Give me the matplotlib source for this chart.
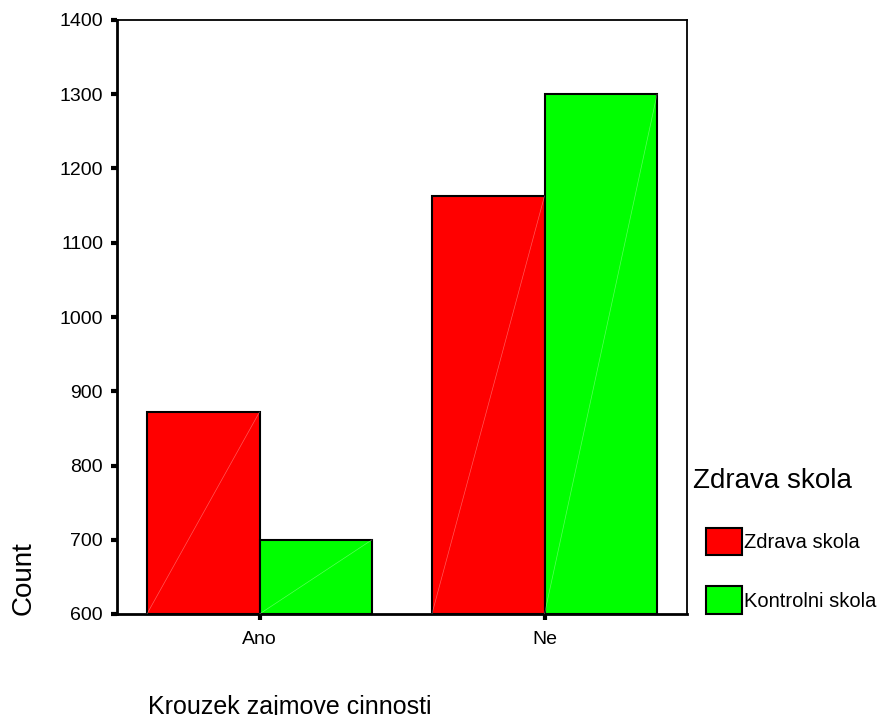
import matplotlib
matplotlib.use('Agg')
import matplotlib.pyplot as plt
import numpy as np
from matplotlib.patches import Patch

plt.rcParams['font.family'] = ['Liberation Sans', 'DejaVu Sans']

# data
categories = ['Ano', 'Ne']
groups = ['Zdrava skola', 'Kontrolni skola']
zdrava = [872, 1163]
kontrolni = [700, 1300]
colors = ['#ff0000', '#00ff00']
y_ticks = [600, 700, 800, 900, 1000, 1100, 1200, 1300, 1400]

fig = plt.figure(figsize=(8.85, 7.15), dpi=100)
ax = fig.add_axes([117 / 885, 1 - 614 / 715, 570 / 885, 594 / 715])

x = np.arange(len(categories))
width = 0.395
base = y_ticks[0]
for i, (vals, col) in enumerate(zip([zdrava, kontrolni], colors)):
    pos = x + (i - 0.5) * width
    ax.bar(pos, np.array(vals) - base, width=width, bottom=base, color=col,
           edgecolor='black', linewidth=1.5, zorder=2)
    # faint diagonal artefact inside each bar
    for p, v in zip(pos, vals):
        ax.plot([p - width / 2, p + width / 2], [base, v], color='white',
                lw=0.5, alpha=0.35, zorder=3)

ax.set_xlim(-0.5, 1.5)
ax.set_ylim(600, 1400)
ax.set_yticks(y_ticks)
ax.set_xticks(x)
ax.set_xticklabels(categories)

for side in ['left', 'bottom']:
    ax.spines[side].set_linewidth(2)
for side in ['top', 'right']:
    ax.spines[side].set_linewidth(1.3)

ax.tick_params(axis='y', direction='out', length=4, width=3, pad=6, labelsize=14)
ax.tick_params(axis='x', direction='out', length=4, width=3, pad=8, labelsize=14)

fig.text(24 / 885, 1 - 578 / 715, 'Count', rotation=90, ha='center', va='center',
         fontsize=20)
fig.text(148 / 885, 1 - 707 / 715, 'Krouzek zajmove cinnosti', ha='left',
         va='center', fontsize=18)

fig.text(693 / 885, 1 - 481 / 715, 'Zdrava skola', ha='left', va='center',
         fontsize=20)
handles = [Patch(facecolor=c, edgecolor='black', linewidth=1.5) for c in colors]
fig.legend(handles, groups, loc='upper left',
           bbox_to_anchor=(698 / 885, 1 - 520 / 715), frameon=False,
           fontsize=14.5, handlelength=1.8, handleheight=1.7,
           handletextpad=0.1, labelspacing=1.55, borderaxespad=0)

fig.savefig('out.png', dpi=100)
